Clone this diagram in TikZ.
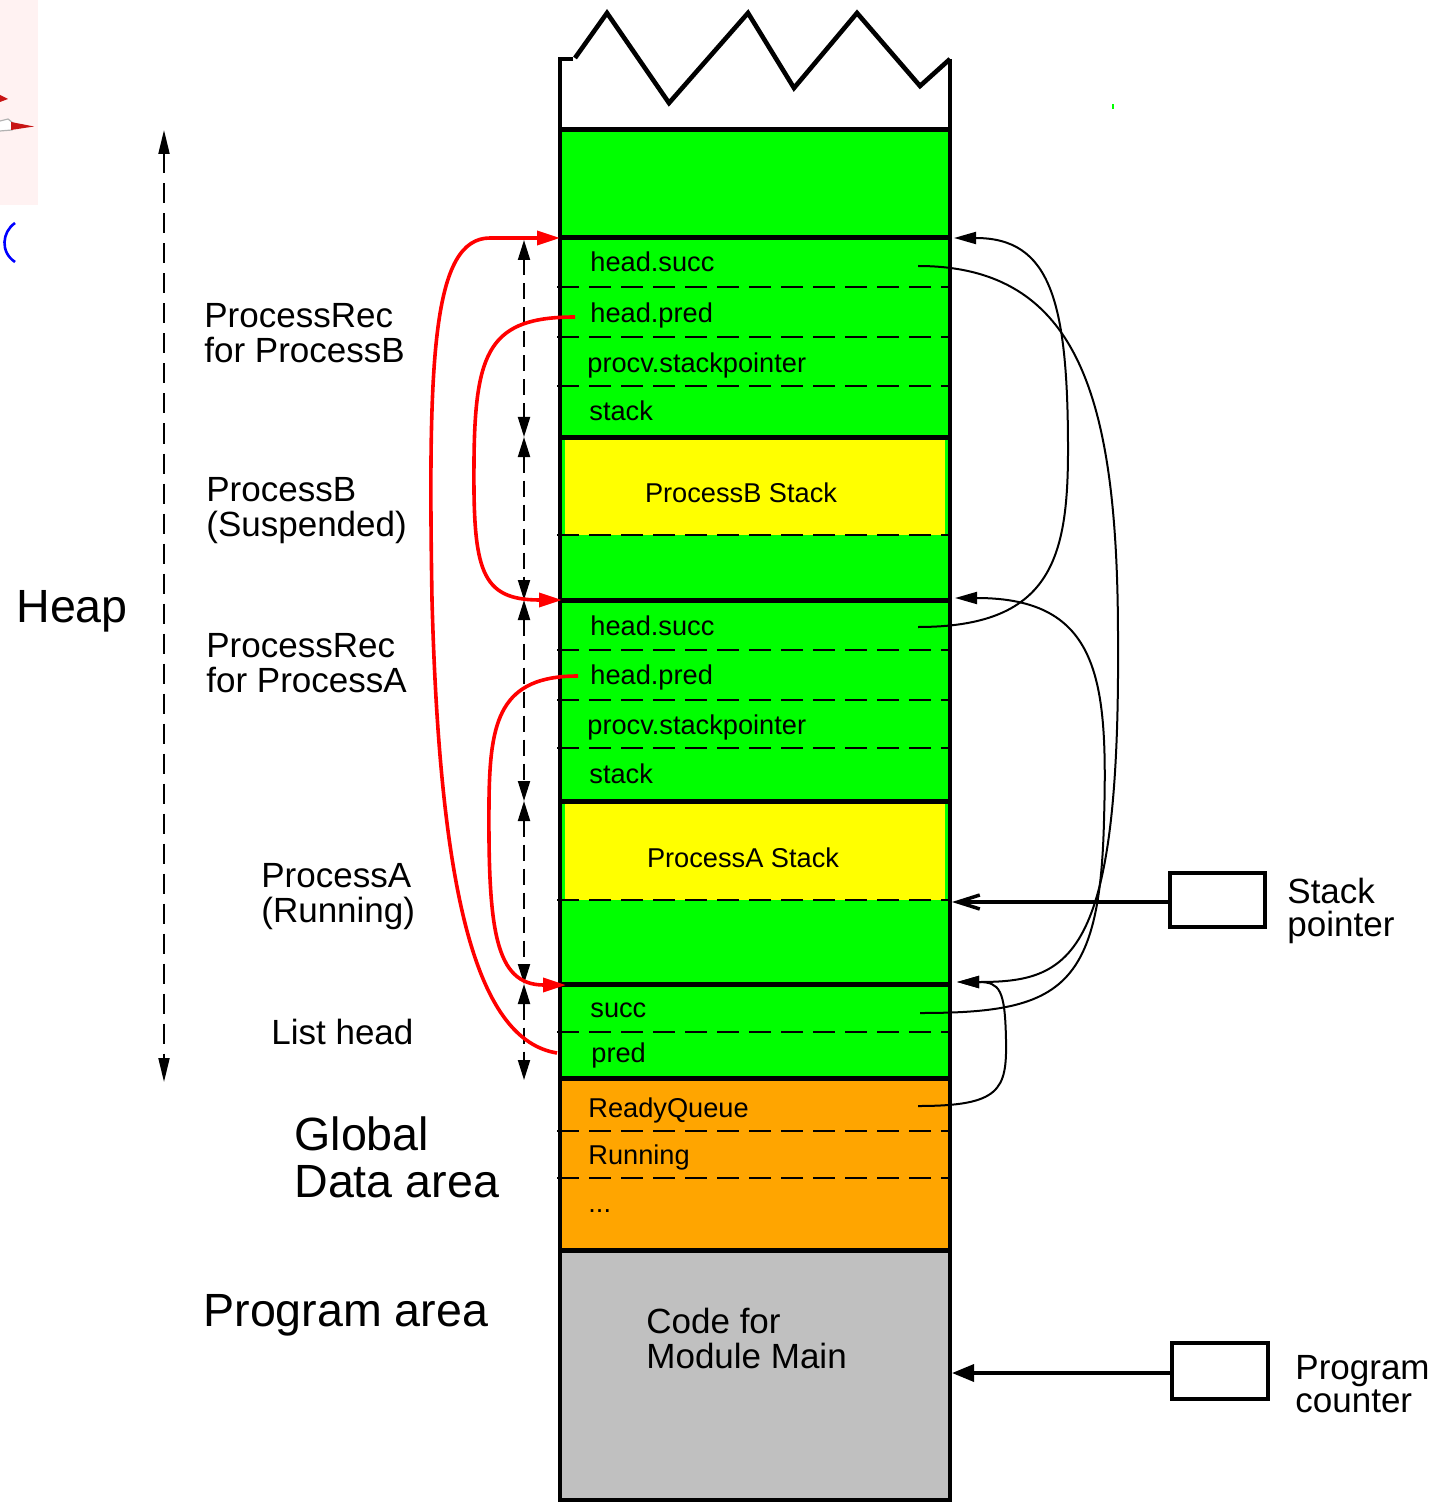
\documentclass[tikz,border=0pt]{standalone}
\usepackage{fontspec}
\setmainfont{Liberation Sans}
\usetikzlibrary{arrows.meta}
\definecolor{cgreen}{RGB}{0,255,0}
\definecolor{cyellow}{RGB}{255,255,0}
\definecolor{corange}{RGB}{255,165,0}
\definecolor{cgray}{RGB}{192,192,192}
\definecolor{cpink}{RGB}{255,242,242}
\definecolor{cred}{RGB}{255,0,0}
\definecolor{cbeak}{RGB}{200,20,20}
\tikzset{
  sm/.style={font=\fontsize{13.6}{13.6}\selectfont, inner sep=0pt, anchor=base west},
  smc/.style={font=\fontsize{13.6}{13.6}\selectfont, inner sep=0pt, anchor=base},
  md/.style={font=\fontsize{17.5}{17.5}\selectfont, inner sep=0pt, anchor=base west},
  lg/.style={font=\fontsize{23.3}{23.3}\selectfont, inner sep=0pt, anchor=base west},
  bar/.style={line width=2.5pt},
  fieldsep/.style={line width=1.2pt, dash pattern=on 11pt off 5pt},
  frame/.style={line width=2.3pt, line join=miter},
  ptr/.style={line width=1pt, -{Triangle[length=11pt,width=6pt]}},
  redptr/.style={cred, line width=1.8pt, -{Triangle[length=11.5pt,width=7pt]}},
  spanarrow/.style={line width=1pt, dash pattern=on 8pt off 4pt,
     {Triangle[length=10pt,width=6pt]}-{Triangle[length=10pt,width=6pt]}},
  heaparrow/.style={line width=1pt, dash pattern=on 10pt off 5pt,
     {Triangle[length=12pt,width=5.5pt]}-{Triangle[length=12pt,width=5.5pt]}},
  regbox/.style={draw, line width=2pt, inner sep=0pt},
}
\begin{document}
\begin{tikzpicture}[x=0.5pt,y=-0.5pt]
\useasboundingbox (0,0) rectangle (1436,1502);

% stray fragments at the top left
\fill[cpink] (0,0) rectangle (38,205);
\fill[cbeak] (0,95) -- (8,99) -- (0,102) -- cycle;
\draw[gray!60, line width=0.6pt, fill=white] (0,121) -- (8,119) -- (13,123) -- (12,130) -- (0,131);
\fill[cbeak] (11,122) -- (34,126.5) -- (11,130) -- cycle;
\draw[blue, line width=1.3pt] (15,223) .. controls (2,232) and (0,252) .. (15,262);
\fill[cgreen] (1112,104) rectangle (1114,109);

% region fills
\fill[cgreen] (560,130) rectangle (950,1078);
\fill[cyellow] (565,440) rectangle (945,535);
\fill[cyellow] (565,804) rectangle (945,900);
\fill[corange] (560,1078) rectangle (950,1250);
\fill[cgray] (560,1250) rectangle (950,1500);

% field separators
\foreach \yy in {287,337,386,535,650,700,748,900,1032,1131,1178}
  \draw[fieldsep] (557,\yy) -- (948,\yy);
% record boundaries
\foreach \yy in {130,238,437,600,801,984,1078,1250}
  \draw[bar] (560,\yy) -- (950,\yy);

% outer frame with torn top
\draw[frame] (573,59) -- (560,59) -- (560,1500) -- (950,1500) -- (950,59);
\draw[frame] (575,58) -- (607,13) -- (669,103) -- (748,13) -- (794,88) -- (857,13) -- (920,86) -- (950,59);

% texts in the column
\node[sm] (bsucc) at (590,272) {head.succ};
\node[sm] (bpred) at (590,323) {head.pred};
\node[sm] (bsp) at (587,373) {procv.stackpointer};
\node[sm] (bstk) at (589,421) {stack};
\node[smc] (bstack) at (741,502) {ProcessB Stack};
\node[sm] (asucc) at (590,635) {head.succ};
\node[sm] (apred) at (590,684) {head.pred};
\node[sm] (asp) at (587,734) {procv.stackpointer};
\node[sm] (astk) at (589,783) {stack};
\node[smc] (astack) at (743,867) {ProcessA Stack};
\node[sm] (lsucc) at (590,1017) {succ};
\node[sm] (lpred) at (591,1062) {pred};
\node[sm] (rq) at (588,1117) {ReadyQueue};
\node[sm] (run) at (588,1164) {Running};
\node[sm] (dots) at (588,1212) {...};
\node[md] (code1) at (646,1333) {Code for};
\node[md] (code2) at (646,1368) {Module Main};

% labels on the left
\node[md] (prb1) at (204,328) {ProcessRec};
\node[md] (prb2) at (204,363) {for ProcessB};
\node[md] (pb1) at (206,501) {ProcessB};
\node[md] (pb2) at (206,536) {(Suspended)};
\node[lg] (heap) at (16,622) {Heap};
\node[md] (pra1) at (206,657) {ProcessRec};
\node[md] (pra2) at (206,692) {for ProcessA};
\node[md] (pa1) at (261,887) {ProcessA};
\node[md] (pa2) at (261,922) {(Running)};
\node[md] (lh) at (271,1044) {List head};
\node[lg] (gd1) at (294,1150) {Global};
\node[lg] (gd2) at (294,1197) {Data area};
\node[lg] (prog) at (203,1326) {Program area};

% registers on the right
\node[regbox, minimum width=47.5pt, minimum height=27pt] (spbox) at (1217.5,900) {};
\node[md] (sp1) at (1287,903) {Stack};
\node[md] (sp2) at (1287,936) {pointer};
\node[regbox, minimum width=48pt, minimum height=28pt] (pcbox) at (1220,1371) {};
\node[md] (pc1) at (1295,1379) {Program};
\node[md] (pc2) at (1295,1412) {counter};

% coordinates
\coordinate (colR) at (952,0);
\coordinate (H1) at (164,130);
\coordinate (H2) at (164,1082);
\coordinate (S1) at (524,240);
\coordinate (S2) at (524,437);
\coordinate (S3) at (524,600);
\coordinate (S4) at (524,801);
\coordinate (S5) at (524,984);
\coordinate (S6) at (524,1080);
\coordinate (recB) at (560,238);
\coordinate (recA) at (562,600);
\coordinate (lhead) at (566,985);
\coordinate (recBr) at (954,238);
\coordinate (recAr) at (955,598);
\coordinate (lheadr) at (957,982);
\coordinate (bpredL) at (575,317);
\coordinate (apredL) at (578,676);
\coordinate (lpredL) at (557,1053);
\coordinate (bsuccR) at (918,266);
\coordinate (asuccR) at (918,627);
\coordinate (lsuccR) at (920,1013);
\coordinate (rqR) at (918,1106);

% extents
\draw[heaparrow] (H1) -- (H2);
\draw[spanarrow] (S1) -- (S2);
\draw[spanarrow] (S2) -- (S3);
\draw[spanarrow] (S3) -- (S4);
\draw[spanarrow] (S4) -- (S5);
\draw[spanarrow] (S5) -- (S6);

% pred pointers (red)
\draw[redptr] (bpredL) .. controls (490,317) and (475,350) .. (474,460)
   .. controls (473,570) and (480,600) .. (recA);
\draw[redptr] (apredL) .. controls (500,676) and (490,720) .. (489,800)
   .. controls (488,930) and (495,985) .. (lhead);
\draw[redptr] (lpredL) .. controls (478,1040) and (440,900) .. (432,600)
   .. controls (428,360) and (432,238) .. (490,238) -- (recB);

% succ pointers (black)
\draw[ptr] (bsuccR) .. controls (1080,266) and (1118,400) .. (1118,640)
   .. controls (1120,960) and (1070,982) .. (lheadr);
\draw[ptr] (asuccR) .. controls (1050,627) and (1068,560) .. (1068,450)
   .. controls (1068,300) and (1050,238) .. (recBr);
\draw[ptr] (lsuccR) .. controls (1060,1013) and (1100,990) .. (1104,820)
   .. controls (1108,680) and (1100,598) .. (recAr);
\draw[ptr] (rqR) .. controls (1000,1106) and (1007,1090) .. (1006,1040)
   .. controls (1005,990) and (1000,982) .. (lheadr);

% register arrows
\draw[line width=1.75pt, -{Straight Barb[length=11pt,width=7pt]}] ([yshift=-1pt]spbox.west) -- ([yshift=-1pt]spbox.west -| colR);
\draw[line width=1.75pt, -{Triangle[length=11pt,width=8.5pt]}] ([yshift=-1pt]pcbox.west) -- ([yshift=-1pt]pcbox.west -| colR);
\end{tikzpicture}
\end{document}
